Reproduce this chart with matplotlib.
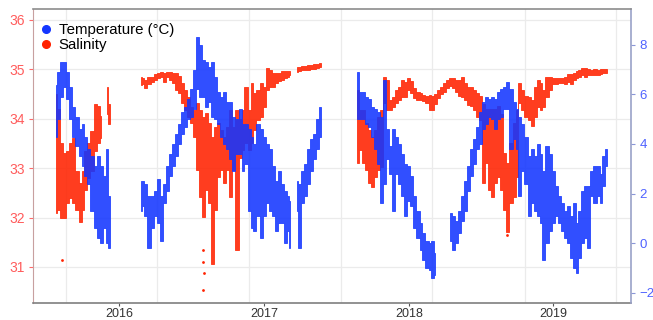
import numpy as np
import pandas as pd
import matplotlib
import matplotlib.pyplot as plt
from matplotlib.lines import Line2D

matplotlib.use('agg')
plt.rcParams['font.family'] = ['Liberation Sans', 'DejaVu Sans']

nan = np.nan

# sample dates (one list per deployment)
dates_2015 = ["2015-07-24", "2015-08-01", "2015-08-08", "2015-08-16", "2015-08-24",
              "2015-09-01", "2015-09-08", "2015-09-16", "2015-09-24",
              "2015-10-01", "2015-10-08", "2015-10-16", "2015-10-24",
              "2015-11-01", "2015-11-08", "2015-11-16", "2015-11-24",
              "2015-12-01", "2015-12-08"]

dates_2016 = ["2016-02-24",
              "2016-03-01", "2016-03-08", "2016-03-16", "2016-03-24",
              "2016-04-01", "2016-04-08", "2016-04-16", "2016-04-24",
              "2016-05-01", "2016-05-08", "2016-05-16", "2016-05-24",
              "2016-06-01", "2016-06-08", "2016-06-16", "2016-06-24",
              "2016-07-01", "2016-07-08", "2016-07-16", "2016-07-24",
              "2016-08-01", "2016-08-08", "2016-08-16", "2016-08-24",
              "2016-09-01", "2016-09-08", "2016-09-16", "2016-09-24",
              "2016-10-01", "2016-10-08", "2016-10-16", "2016-10-24",
              "2016-11-01", "2016-11-08", "2016-11-16", "2016-11-24",
              "2016-12-01", "2016-12-08", "2016-12-16", "2016-12-24",
              "2017-01-01", "2017-01-08", "2017-01-16", "2017-01-24",
              "2017-02-01", "2017-02-08", "2017-02-16", "2017-02-24",
              "2017-03-01", "2017-03-08", "2017-03-16", "2017-03-24",
              "2017-04-01", "2017-04-08", "2017-04-16", "2017-04-24",
              "2017-05-01", "2017-05-08", "2017-05-16", "2017-05-24"]

dates_2017 = ["2017-08-24",
              "2017-09-01", "2017-09-08", "2017-09-16", "2017-09-24",
              "2017-10-01", "2017-10-08", "2017-10-16", "2017-10-24",
              "2017-11-01", "2017-11-08", "2017-11-16", "2017-11-24",
              "2017-12-01", "2017-12-08", "2017-12-16", "2017-12-24",
              "2018-01-01", "2018-01-08", "2018-01-16", "2018-01-24",
              "2018-02-01", "2018-02-08", "2018-02-16", "2018-02-24",
              "2018-03-01", "2018-03-08", "2018-03-16", "2018-03-24",
              "2018-04-01", "2018-04-08", "2018-04-16", "2018-04-24",
              "2018-05-01", "2018-05-08", "2018-05-16", "2018-05-24",
              "2018-06-01", "2018-06-08", "2018-06-16", "2018-06-24",
              "2018-07-01", "2018-07-08", "2018-07-16", "2018-07-24",
              "2018-08-01", "2018-08-08", "2018-08-16", "2018-08-24",
              "2018-09-01", "2018-09-08", "2018-09-16", "2018-09-24",
              "2018-10-01", "2018-10-08", "2018-10-16", "2018-10-24",
              "2018-11-01", "2018-11-08", "2018-11-16", "2018-11-24",
              "2018-12-01", "2018-12-08", "2018-12-16", "2018-12-24",
              "2019-01-01", "2019-01-08", "2019-01-16", "2019-01-24",
              "2019-02-01", "2019-02-08", "2019-02-16", "2019-02-24",
              "2019-03-01", "2019-03-08", "2019-03-16", "2019-03-24",
              "2019-04-01", "2019-04-08", "2019-04-16", "2019-04-24",
              "2019-05-01", "2019-05-08", "2019-05-16"]

# temperature (degC), low / high of the scatter at each date
temp_low_2015 = [4.3, 5.0, 5.9, 6.3, 5.8, 5.0, 4.3, 3.9, 3.5, 3.1, 2.7, 2.4, 1.3,
                 0.6, 0.2, 0.0, 0.6, 0.0, -0.2]
temp_high_2015 = [6.4, 6.9, 7.3, 7.3, 6.9, 6.3, 5.5, 5.1, 4.6, 4.8, 4.3, 3.8, 3.5,
                  3.1, 3.5, 3.1, 2.7, 3.8, 1.9]

temp_low_2016 = [1.3, 1.5, 1.1, -0.2, 0.6, 1.1, 0.8, 0.1, 1.6, 2.1, 2.7, 3.1, 3.5,
                 4.0, 4.4, 4.7, 5.0, 5.1, 5.4, 6.2, 5.9, 5.9, 5.5, 5.7, 5.1,
                 5.0, 4.8, 4.3, 4.0, 3.8, 3.4, 2.9, 3.6, 3.6, 2.9, 3.2, 1.3,
                 0.6, 0.5, 1.1, 0.2, 1.1, 1.6, 1.3, 1.1, 0.5, 0.8, 0.8, 0.0,
                 0.5, -0.2, nan, 1.3, -0.2, 1.6, 1.9, 2.4, 2.9, 3.4, 3.8, 4.3]
temp_high_2016 = [2.5, 2.5, 2.4, 1.9, 1.9, 2.1, 2.6, 1.9, 2.4, 3.1, 3.6, 4.0, 4.4,
                  4.8, 5.3, 5.5, 5.8, 6.2, 7.0, 8.3, 8.0, 7.4, 7.3, 7.1, 7.3,
                  6.7, 6.1, 5.9, 6.1, 5.7, 5.7, 5.1, 5.0, 5.4, 4.8, 4.8, 4.6,
                  4.3, 4.0, 4.8, 4.6, 4.3, 4.0, 3.8, 3.1, 2.5, 2.9, 2.4, 2.1,
                  1.9, 1.7, nan, 2.5, 2.4, 2.9, 3.2, 3.8, 4.2, 4.4, 5.0, 5.5]

temp_low_2017 = [5.0, 5.0, 5.0, 4.8, 4.7, 4.3, 3.8, 3.2, 1.6, 2.4, 3.4, 2.8, 1.3,
                 2.8, 2.4, 1.9, 1.1,
                 1.7, 1.5, 0.6, 0.2, -0.3, -0.7, -1.0, -1.1, -1.4, -1.3, nan, nan,
                 nan, nan, 0.1, -0.3, 0.0, 0.4, 0.9, 1.3, 2.1, 2.7, 3.2, 3.8,
                 4.0, 4.6, 4.8, 5.1, 5.0, 4.6, 5.0, 5.1, 5.4, 5.4, 3.8, 4.2,
                 3.8, 1.9, 2.9, 2.4, 1.1, 1.6, 1.3, 1.1, 0.8, -0.7, 0.0, 0.5,
                 0.8, 1.1, 0.8, 0.5, 0.2, 0.0, -0.6, -1.0, -1.2, -0.6, 0.0, 0.2,
                 -0.2, 1.9, 1.6, 1.9, 1.6, 2.3, 3.1]
temp_high_2017 = [6.9, 6.1, 6.1, 5.9, 5.8, 5.5, 5.4, 5.3, 5.1, 6.6, 4.6, 3.9, 4.6,
                  4.3, 4.0, 3.6, 3.2,
                  3.1, 2.7, 1.9, 1.3, 0.8, 0.4, 0.1, 0.0, 0.1, -0.4, nan, nan,
                  nan, nan, 1.2, 1.1, 0.9, 1.3, 1.9, 2.5, 3.1, 3.8, 4.2, 4.7,
                  5.3, 5.7, 5.9, 5.8, 5.9, 5.8, 6.1, 6.2, 6.3, 6.5, 6.2, 5.7,
                  5.4, 5.1, 4.8, 4.3, 3.5, 3.8, 3.5, 4.0, 3.6, 2.9, 3.9, 3.6,
                  2.9, 2.3, 1.9, 1.6, 1.3, 1.5, 1.1, 1.6, 0.8, 1.3, 2.1, 2.3,
                  2.3, 2.9, 3.1, 3.1, 2.8, 3.5, 3.8]

# salinity, low / high of the scatter at each date
sal_low_2015 = [32.1, 32.15, 32.0, 32.0, 32.3, 32.4, 32.3, 32.15, 31.9, 32.15,
                32.55, 32.8, 32.95, 33.35, 33.5, 33.6, nan, 34.1, 33.9]
sal_high_2015 = [34.5, 34.2, 33.5, 33.3, 33.35, 33.5, 33.6, 32.95, 32.7, 32.95,
                 33.35, 33.5, 33.75, 34.3, 34.25, 34.05, nan, 34.65, 34.3]

sal_low_2016 = [34.68, 34.7, 34.62, 34.7, 34.75, 34.79, 34.82, 34.85, 34.75,
                34.85, 34.79, 34.72, 34.58, 34.52, 34.32, 34.18, 34.04,
                33.92, 33.63, 32.96, 32.42, 32.01, 32.56, 32.30, 31.05,
                32.15, 32.82, 32.96, 32.70, 32.96, 32.42, 32.96, 31.35,
                33.2, 33.37, 33.51, 33.37, 33.51, 33.77, 33.98, 34.04,
                34.24, 34.58, 34.64, 34.64, 34.72, 34.77, 34.79, 34.82,
                34.85, 34.89, nan, 34.95, 34.97, 34.98, 34.98, 34.99,
                35.0, 35.0, 35.02, 35.04]
sal_high_2016 = [34.85, 34.82, 34.79, 34.84, 34.85, 34.9, 34.93, 34.95, 34.93,
                 34.95, 34.95, 34.93, 34.93, 34.86, 34.72, 34.58, 34.44,
                 34.24, 34.18, 34.32, 34.18, 34.04, 34.12, 33.92, 33.63,
                 33.83, 33.92, 33.77, 33.63, 33.83, 34.18, 33.83, 34.18,
                 34.0, 34.18, 34.64, 34.18, 34.72, 34.52, 34.58, 34.72,
                 34.64, 35.03, 34.99, 34.93, 34.93, 34.93, 34.96, 34.96,
                 34.97, 34.97, nan, 35.05, 35.05, 35.06, 35.07, 35.08,
                 35.09, 35.1, 35.11, 35.12]

sal_low_2017 = [33.1, 33.37, 33.1, 32.96, 32.70, 32.62, 32.82, 32.96, 33.02,
                34.32, 34.18, 34.18, 34.24, 34.32, 34.38, 34.44, 34.44,
                34.58, 34.52, 34.42, 34.38, 34.38, 34.35, 34.32, 34.18,
                34.18, 34.3, 34.42, 34.5, 34.55, 34.62, 34.66, 34.62,
                34.55, 34.45, 34.44, 34.38, 34.28, 34.25, 34.18, 34.04,
                33.98, 32.70, 33.1, 32.56, 32.42, 32.70, 32.82, 32.56,
                32.15, 31.7, 32.30, 32.42, 32.82, 34.32, 34.18, 34.04,
                33.98, 33.85, 34.04, 34.24, 34.18, 34.24, 34.44, 34.58,
                34.7, 34.7, 34.72, 34.72, 34.7, 34.75, 34.7, 34.79,
                34.82, 34.85, 34.88, 34.85, 34.88, 34.88, 34.88, 34.88,
                34.9, 34.92, 34.93]
sal_high_2017 = [34.58, 34.18, 34.18, 33.92, 33.77, 33.63, 33.77, 34.04, 34.18,
                 34.85, 34.79, 34.38, 34.44, 34.58, 34.64, 34.79, 34.75,
                 34.83, 34.76, 34.62, 34.55, 34.52, 34.48, 34.46, 34.48,
                 34.45, 34.5, 34.58, 34.64, 34.72, 34.79, 34.82, 34.82,
                 34.79, 34.79, 34.85, 34.72, 34.64, 34.64, 34.58, 34.52,
                 34.45, 34.3, 34.2, 34.2, 34.2, 34.2, 34.25, 34.1,
                 33.31, 33.1, 33.51, 33.92, 34.18, 34.72, 34.58, 34.45,
                 34.44, 34.38, 34.64, 34.79, 34.72, 34.58, 34.85, 34.85,
                 34.82, 34.82, 34.82, 34.82, 34.85, 34.9, 34.9, 34.93,
                 34.96, 34.99, 35.02, 35.02, 35.0, 34.99, 35.0, 34.99,
                 35.0, 35.01, 35.0]

# isolated low salinity readings
sal_outlier_dates = ["2015-08-10", "2016-07-30", "2016-07-31", "2016-08-01",
                     "2016-07-31", "2018-09-06"]
sal_outlier_values = [31.15, 31.35, 31.1, 30.88, 30.53, 31.65]

year_ticks = ["2016-01-01", "2017-01-01", "2018-01-01", "2019-01-01"]
year_labels = ["2016", "2017", "2018", "2019"]
vgrid_dates = ["2015-08-19", "2016-04-05", "2016-11-23", "2017-07-13",
               "2018-02-28", "2018-10-21", "2019-06-08"]

blue = '#1436ff'
red = '#ff2200'

fig = plt.figure(figsize=(6.53, 3.2), dpi=100)
ax = fig.add_axes([33 / 653, 17 / 320, 598 / 653, 294 / 320])
ax2 = ax.twinx()


def draw_band(axis, dates, low, high, color):
    d = pd.to_datetime(dates)
    lo = np.array(low, dtype=float)
    hi = np.array(high, dtype=float)
    axis.fill_between(d, lo, hi, step='mid', color=color, linewidth=0.6,
                      edgecolor=color, alpha=0.88)


draw_band(ax, dates_2015, sal_low_2015, sal_high_2015, red)
draw_band(ax, dates_2016, sal_low_2016, sal_high_2016, red)
draw_band(ax, dates_2017, sal_low_2017, sal_high_2017, red)
ax.scatter(pd.to_datetime(sal_outlier_dates), sal_outlier_values, s=4, color=red, lw=0)

draw_band(ax2, dates_2015, temp_low_2015, temp_high_2015, blue)
draw_band(ax2, dates_2016, temp_low_2016, temp_high_2016, blue)
draw_band(ax2, dates_2017, temp_low_2017, temp_high_2017, blue)

ax.set_xlim(pd.Timestamp("2015-05-28"), pd.Timestamp("2019-07-16"))
ax.set_ylim(30.27, 36.22)
ax2.set_ylim(-2.42, 9.45)

ax.set_xticks(pd.to_datetime(year_ticks))
ax.set_xticklabels(year_labels)
ax.set_yticks([31, 32, 33, 34, 35, 36])
ax2.set_yticks([-2, 0, 2, 4, 6, 8])

# grid
ax.set_axisbelow(True)
ax.grid(axis='y', color='#ebebeb', linewidth=0.9)
for g in pd.to_datetime(vgrid_dates):
    ax.axvline(g, color='#ebebeb', linewidth=0.9, zorder=0)

ax.tick_params(axis='x', colors='#555555', labelcolor='#333333', length=2.5,
               width=0.8, labelsize=9, pad=1)
ax.tick_params(axis='y', colors='#ff6a6a', labelcolor='#ff5c5c', length=3,
               width=0.8, labelsize=10, pad=3)
ax2.tick_params(axis='y', colors='#8a96d8', labelcolor='#4f62ff', length=3,
                width=0.8, labelsize=9.5, pad=3)

for s in ['top', 'right']:
    ax.spines[s].set_visible(False)
ax.spines['left'].set_color('#c8a0a0')
ax.spines['bottom'].set_color('#7f7f7f')
ax.spines['bottom'].set_linewidth(1.2)
ax2.spines['left'].set_visible(False)
ax2.spines['bottom'].set_visible(False)
ax2.spines['top'].set_color('#8c8c8c')
ax2.spines['top'].set_linewidth(1.2)
ax2.spines['right'].set_color('#9aa2c8')
ax2.spines['right'].set_linewidth(1.2)

handles = [Line2D([], [], marker='o', ls='', color=blue, markersize=5.5),
           Line2D([], [], marker='o', ls='', color=red, markersize=5.5)]
ax2.legend(handles, ['Temperature (°C)', 'Salinity'], loc='upper left',
           bbox_to_anchor=(-0.006, 0.985), frameon=False, fontsize=10.8,
           handlelength=0.9, handletextpad=0.4, labelspacing=0.08,
           borderaxespad=0.3, borderpad=0.35)

fig.savefig('out.png', dpi=100)
